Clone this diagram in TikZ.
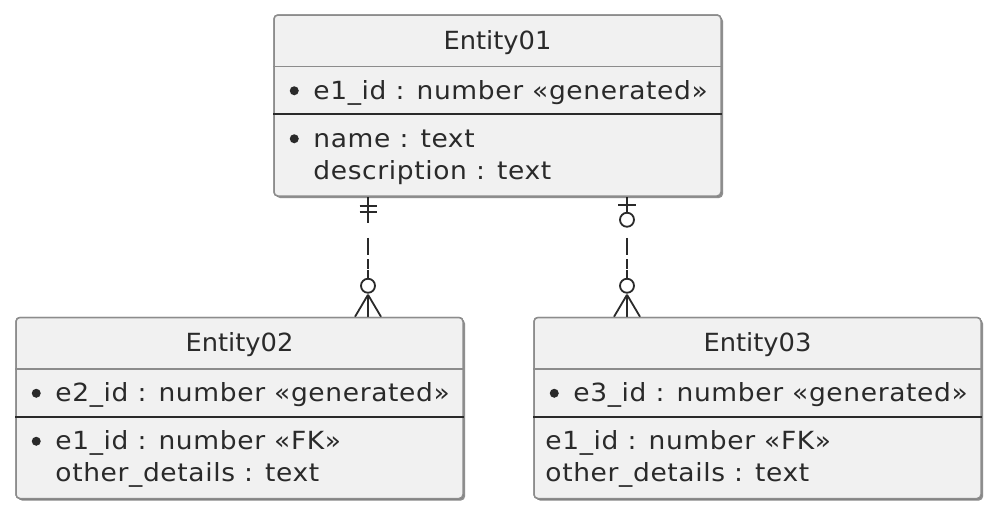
\documentclass[tikz,border=0pt]{standalone}
\usepackage{fontspec}
\setmainfont{DejaVu Sans}
\newfontfamily\fieldfont[FakeStretch=1.06,LetterSpace=2.5]{DejaVu Sans}
\newfontfamily\titlefont[FakeStretch=1.03]{DejaVu Sans}
\usetikzlibrary{shadows}
\definecolor{boxfill}{HTML}{F1F1F1}
\definecolor{boxline}{HTML}{8C8C8C}
\definecolor{darkline}{HTML}{2A2A2A}
\tikzset{
  entity/.style={draw=boxline,fill=boxfill,line width=1.5pt,rounded corners=4pt,
    minimum width=447pt,minimum height=181pt,inner sep=0pt,
    drop shadow={shadow xshift=2pt,shadow yshift=-2pt,opacity=0.25,fill=black}},
  title/.style={anchor=base,inner sep=0pt,font=\titlefont\fontsize{25}{33}\selectfont,text=darkline},
  field/.style={anchor=base west,inner sep=0pt,font=\fieldfont\fontsize{25}{33}\selectfont,text=darkline},
  lightsep/.style={draw=boxline,line width=1.5pt},
  darksep/.style={draw=darkline,line width=2pt},
  bullet/.style={fill=darkline},
  rel/.style={draw=darkline,line width=1.8pt,dash pattern=on 17pt off 15pt,dash phase=23pt},
  relend/.style={draw=darkline,line width=1.8pt},
  ring/.style={draw=darkline,fill=white,line width=1.8pt}
}
\begin{document}
\begin{tikzpicture}[x=1pt,y=-1pt]
\useasboundingbox[fill=white] (0,0) rectangle (998,512);

% relations (behind the boxes)
\coordinate (r1x) at (368,0);
\coordinate (r2x) at (627,0);
\node[entity] (e1) at (497.5,105.5) {};
\node[entity] (e2) at (239.5,408) {};
\node[entity] (e3) at (757.5,408) {};

% Entity01 -- Entity02 : exactly one to zero or many
\draw[rel] (r1x |- e1.south) -- (r1x |- e2.north);
\draw[relend] (r1x |- e1.south) -- ++(0,26);
\draw[relend] ([yshift=-9pt]r1x |- e1.south) ++(-8.5,0) -- ++(17,0);
\draw[relend] ([yshift=-15pt]r1x |- e1.south) ++(-8.5,0) -- ++(17,0);
\draw[relend] ([yshift=48pt]r1x |- e2.north) -- ++(0,-10);
\draw[ring] ([yshift=31pt]r1x |- e2.north) circle (7pt);
\draw[relend] ([yshift=22pt]r1x |- e2.north) -- ++(-13,22) ([yshift=22pt]r1x |- e2.north) -- ++(0,22)
  ([yshift=22pt]r1x |- e2.north) -- ++(13,22);

% Entity01 -- Entity03 : zero or one to zero or many
\draw[rel] (r2x |- e1.south) -- (r2x |- e3.north);
\draw[relend] (r2x |- e1.south) -- ++(0,16);
\draw[relend] ([yshift=-8pt]r2x |- e1.south) ++(-9,0) -- ++(18,0);
\draw[ring] ([yshift=-23pt]r2x |- e1.south) circle (7pt);
\draw[relend] ([yshift=48pt]r2x |- e3.north) -- ++(-0,-10);
\draw[ring] ([yshift=31pt]r2x |- e3.north) circle (7pt);
\draw[relend] ([yshift=22pt]r2x |- e3.north) -- ++(-13,22) ([yshift=22pt]r2x |- e3.north) -- ++(0,22)
  ([yshift=22pt]r2x |- e3.north) -- ++(13,22);

% boxes again on top of the line ends
\node[entity] at (e1) {};
\node[entity] at (e2) {};
\node[entity] at (e3) {};

% Entity01
\node[title] (e1t) at ([yshift=-35pt]e1.north) {Entity01};
\draw[lightsep] ([yshift=-52pt]e1.north west) -- ([yshift=-52pt]e1.north east);
\draw[darksep] ([yshift=-100pt]e1.north west) -- ([yshift=-100pt]e1.north east);
\fill[bullet] ([xshift=21pt,yshift=-76.5pt]e1.north west) circle (4.5pt);
\node[field] (e1a) at ([xshift=40pt,yshift=-85pt]e1.north west) {e1\_id : number «generated»};
\fill[bullet] ([xshift=21pt,yshift=-124.5pt]e1.north west) circle (4.5pt);
\node[field] (e1b) at ([xshift=40pt,yshift=-133pt]e1.north west) {name : text};
\node[field] (e1c) at ([xshift=40pt,yshift=-165pt]e1.north west) {description : text};

% Entity02
\node[title] (e2t) at ([yshift=-35pt]e2.north) {Entity02};
\draw[lightsep] ([yshift=-52pt]e2.north west) -- ([yshift=-52pt]e2.north east);
\draw[darksep] ([yshift=-100pt]e2.north west) -- ([yshift=-100pt]e2.north east);
\fill[bullet] ([xshift=21pt,yshift=-76.5pt]e2.north west) circle (4.5pt);
\node[field] (e2a) at ([xshift=40pt,yshift=-85pt]e2.north west) {e2\_id : number «generated»};
\fill[bullet] ([xshift=21pt,yshift=-124.5pt]e2.north west) circle (4.5pt);
\node[field] (e2b) at ([xshift=40pt,yshift=-133pt]e2.north west) {e1\_id : number «FK»};
\node[field] (e2c) at ([xshift=40pt,yshift=-165pt]e2.north west) {other\_details : text};

% Entity03
\node[title] (e3t) at ([yshift=-35pt]e3.north) {Entity03};
\draw[lightsep] ([yshift=-52pt]e3.north west) -- ([yshift=-52pt]e3.north east);
\draw[darksep] ([yshift=-100pt]e3.north west) -- ([yshift=-100pt]e3.north east);
\fill[bullet] ([xshift=21pt,yshift=-76.5pt]e3.north west) circle (4.5pt);
\node[field] (e3a) at ([xshift=40pt,yshift=-85pt]e3.north west) {e3\_id : number «generated»};
\node[field] (e3b) at ([xshift=12pt,yshift=-133pt]e3.north west) {e1\_id : number «FK»};
\node[field] (e3c) at ([xshift=12pt,yshift=-165pt]e3.north west) {other\_details : text};
\end{tikzpicture}
\end{document}
